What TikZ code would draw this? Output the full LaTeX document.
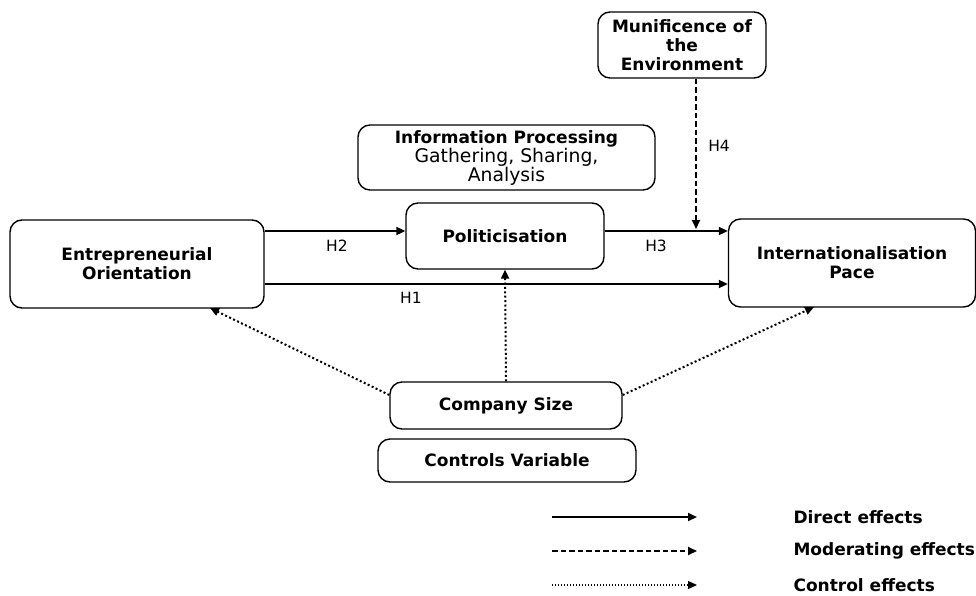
\documentclass[tikz,border=0pt]{standalone}
\usepackage{fontspec}
\setmainfont{DejaVu Sans}
\usetikzlibrary{arrows.meta}
\begin{document}
\begin{tikzpicture}[x=1pt,y=-1pt,
  box/.style={draw,line width=1.4pt,rounded corners=12pt,align=center,font=\fontsize{17}{19}\selectfont\bfseries,inner sep=0pt},
  tip/.style={-{Triangle[length=9pt,width=8pt]}},
  direct/.style={tip,line width=2pt},
  moder/.style={tip,line width=2pt,dash pattern=on 5.5pt off 3pt},
  ctrl/.style={tip,line width=2pt,dash pattern=on 2pt off 2.4pt},
  lab/.style={font=\fontsize{15.5}{17}\selectfont},
  leg/.style={font=\fontsize{17}{19}\selectfont\bfseries,anchor=west}]
\useasboundingbox (0,0) rectangle (976,596);
\node[box,minimum width=168pt,minimum height=66pt] (mun) at (682,45) {Munificence of\\the\\Environment};
\node[box,minimum width=297pt,minimum height=65pt] (info) at (506.5,157.5) {Information Processing\\{\fontsize{18.8}{19}\selectfont\mdseries Gathering, Sharing,}\\{\fontsize{18.8}{19}\selectfont\mdseries Analysis}};
\node[box,minimum width=198pt,minimum height=66pt] (pol) at (505,236) {Politicisation};
\node[box,minimum width=254pt,minimum height=88pt] (eo) at (137,264) {Entrepreneurial\\Orientation};
\node[box,minimum width=247pt,minimum height=88pt] (ip) at (852,263) {Internationalisation\\Pace};
\node[box,minimum width=232pt,minimum height=47pt] (cs) at (506,405.5) {Company Size};
\node[box,minimum width=258pt,minimum height=43pt] (cv) at (507,460.5) {Controls Variable};
% direct
\draw[direct] (eo.east |- 0,231) -- (pol.west |- 0,231);
\node[lab] (h2) at (337,246) {H2};
\draw[direct] (pol.east |- 0,231) -- (ip.west |- 0,231);
\node[lab] (h3) at (656,246) {H3};
\draw[direct] (eo.east |- 0,284) -- (ip.west |- 0,284);
\node[lab] (h1) at (411,298) {H1};
% moderating
\coordinate (h4end) at (696,229);
\draw[moder] (mun.south -| h4end) -- (h4end);
\node[lab] (h4) at (719,146) {H4};
% control
\draw[ctrl] (cs.north) -- (pol.south);
\coordinate (eob) at (210,308);
\coordinate (ipb) at (814,307);
\draw[ctrl] (cs.west |- 0,395) -- (eob);
\draw[ctrl] (cs.east |- 0,395) -- (ipb);
% legend
\coordinate (l1a) at (552,517); \coordinate (l1b) at (697,517);
\coordinate (l2a) at (552,551); \coordinate (l2b) at (697,551);
\coordinate (l3a) at (552,585); \coordinate (l3b) at (697,585);
\draw[direct] (l1a) -- (l1b);
\draw[moder] (l2a) -- (l2b);
\draw[ctrl,line width=1.3pt,dash pattern=on 1.2pt off 1.8pt] (l3a) -- (l3b);
\node[leg] (t1) at (790,517) {Direct effects};
\node[leg] (t2) at (790,551) {Moderating effects};
\node[leg] (t3) at (790,585) {Control effects};
\end{tikzpicture}
\end{document}
